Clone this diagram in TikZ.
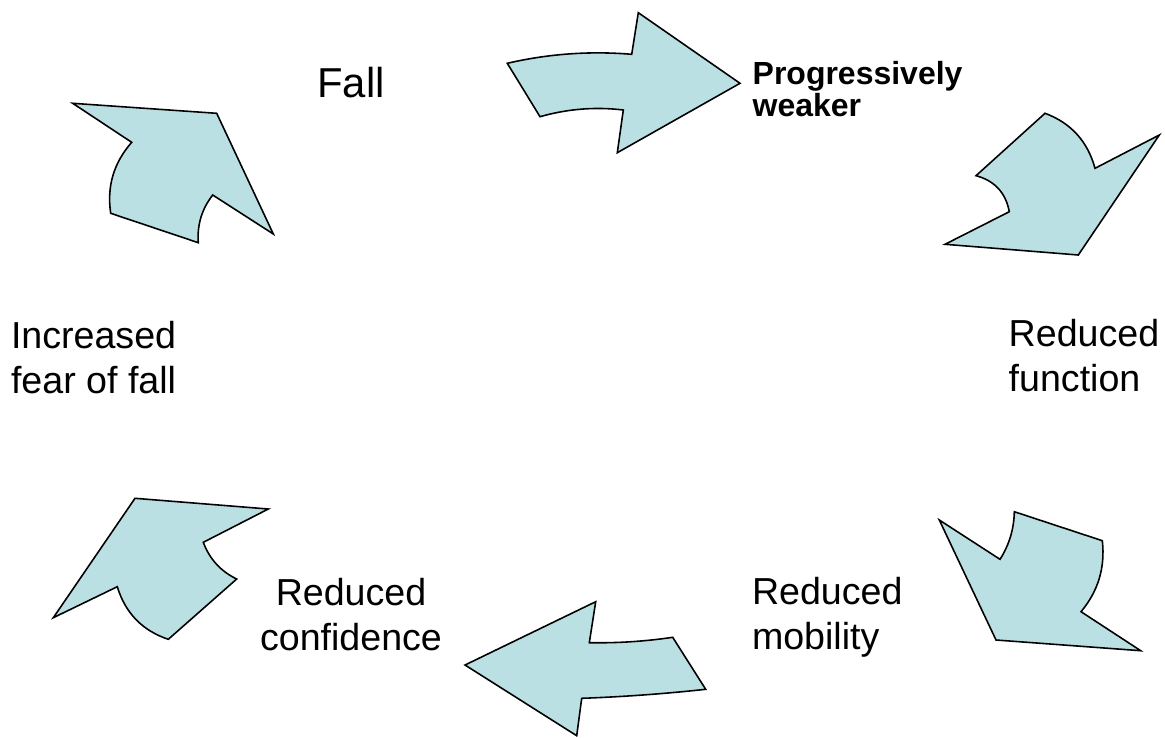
\documentclass[tikz,border=0pt]{standalone}
\usepackage{fontspec}
\setmainfont{Liberation Sans}
\definecolor{arrowfill}{HTML}{BBE0E3}
\tikzset{
  cyc/.style={fill=arrowfill, draw=black, line width=0.9pt, line join=miter},
  lbl/.style={inner sep=0pt, outer sep=0pt, font=\fontsize{21.4}{25.5}\selectfont},
  lblbig/.style={inner sep=0pt, outer sep=0pt, font=\fontsize{23.8}{28}\selectfont},
  lblbold/.style={inner sep=0pt, outer sep=0pt, font=\fontsize{18.2}{17}\selectfont\bfseries}
}
\begin{document}
\begin{tikzpicture}[x=0.02cm, y=-0.02cm]
\useasboundingbox (0,0) rectangle (1165,737);
% top arrow (to the right)
\draw[cyc] (507.3,63.3) .. controls (548.3,53.8) and (589.7,50.8) .. (631.7,54.3) -- (638.3,12.7) -- (740,83.3)
  -- (617.3,152.7) -- (623.3,110) .. controls (595.1,106.6) and (567.4,108.9) .. (540,116.7) -- cycle;
% upper right arrow
\draw[cyc] (1045,113.3) .. controls (1070.9,122.9) and (1087.6,141.3) .. (1095,168.3) -- (1159.3,135) -- (1078.3,255)
  -- (945,244.3) -- (1009.3,211.7) .. controls (1005.7,192.7) and (994.6,180.7) .. (976,175.7) -- cycle;
% lower right arrow
\draw[cyc] (939.3,520) -- (1000,559.3) .. controls (1009.3,544.7) and (1014,528.9) .. (1014.3,511.7) -- (1102.3,540.7)
  .. controls (1105.3,567.5) and (1098.2,591.1) .. (1081,611.7) -- (1140.7,650.7) -- (996,640) -- cycle;
% bottom arrow (to the left)
\draw[cyc] (595.7,601.7) -- (589.3,642.7) .. controls (617.1,643.2) and (644.9,641.4) .. (672.7,637.3) -- (705.7,689.3)
  .. controls (664.4,693.8) and (623,696.8) .. (581.7,698.3) -- (576.7,735.7) -- (465,665) -- cycle;
% lower left arrow
\draw[cyc] (135,498.3) -- (268.3,509) -- (203.3,542.3) .. controls (209.5,559) and (220.7,571.3) .. (236.7,579)
  -- (168.3,639.3) .. controls (142.3,630.6) and (125.3,613) .. (117.3,586.7) -- (53.3,617.7) -- cycle;
% upper left arrow
\draw[cyc] (72.7,103.3) -- (216.7,113.3) -- (273.3,234) -- (212.7,195) .. controls (201.8,209) and (197,224.9) .. (198.3,242.7)
  -- (110.7,213.3) .. controls (106.7,186.4) and (113.7,162.8) .. (131.7,142.3) -- cycle;
% labels (base anchor = baseline of the last line)
\node[lblbig, anchor=base west] (fall) at (317.3,97.3) {Fall};
\node[lblbold, anchor=base west, align=left] (weak) at (752.7,116.7) {Progressively\\weaker};
\node[lbl, anchor=base west, align=left] (func) at (1008.7,391.7) {Reduced\\function};
\node[lbl, anchor=base west, align=left] (mob) at (752,649) {Reduced\\mobility};
\node[lbl, anchor=base, align=center] (conf) at (351,650) {Reduced\\confidence};
\node[lbl, anchor=base west, align=left] (fear) at (11,393.3) {Increased\\fear of fall};
\end{tikzpicture}
\end{document}
